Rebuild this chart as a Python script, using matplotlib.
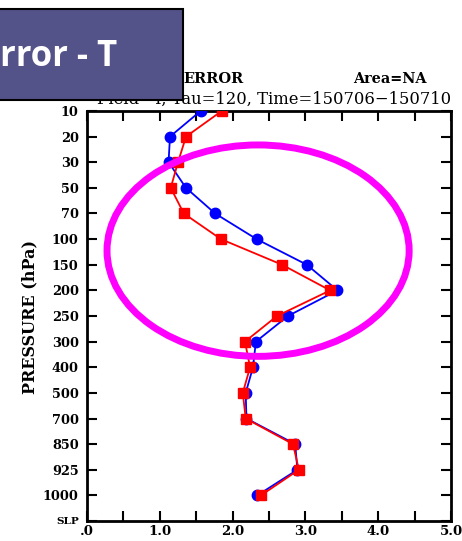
import numpy as np
import matplotlib
matplotlib.use("Agg")
import matplotlib.pyplot as plt
from matplotlib.patches import Ellipse, Rectangle

# Pressure levels (top to bottom) and error values
levels = ["10", "20", "30", "50", "70", "100", "150", "200", "250", "300",
          "400", "500", "700", "850", "925", "1000", "SLP"]
blue_err = [1.56, 1.14, 1.12, 1.36, 1.76, 2.33, 3.02, 3.44, 2.76, 2.32,
            2.28, 2.18, 2.19, 2.86, 2.89, 2.34]
red_err = [1.85, 1.36, 1.25, 1.15, 1.33, 1.84, 2.68, 3.34, 2.61, 2.17,
           2.24, 2.14, 2.18, 2.83, 2.91, 2.39]
xtick_labels = [".0", "1.0", "2.0", "3.0", "4.0", "5.0"]

serif = "DejaVu Serif"

fig = plt.figure(figsize=(4.62, 5.41), dpi=100)
ax = fig.add_axes([87 / 462, 20 / 541, 364 / 462, 410 / 541])

ypos = np.arange(len(blue_err))
ax.plot(blue_err, ypos, color="blue", lw=1.3, marker="o", ms=7.5, zorder=3)
ax.plot(red_err, ypos, color="red", lw=1.3, marker="s", ms=7.5, zorder=4)

# Highlight ellipse
ax.add_patch(Ellipse((2.35, 5.45), 4.15, 8.25, fill=False, ec="#ff00ff",
                     lw=5, zorder=5, clip_on=False))

ax.set_xlim(0, 5)
ax.set_ylim(len(levels) - 1, 0)
ax.set_xticks(np.arange(0, 5.01, 1.0))
ax.set_xticklabels(xtick_labels, fontfamily=serif, fontweight="bold", fontsize=9.5)
ax.set_xticks(np.arange(0.5, 5, 1.0), minor=True)
ax.set_yticks(np.arange(len(levels)))
ax.set_yticklabels(levels, fontfamily=serif, fontweight="bold", fontsize=9.3)
ax.tick_params(axis="both", which="both", direction="in", length=7, width=1.5,
               top=True, right=True)
ax.tick_params(axis="x", pad=3)
ax.tick_params(axis="y", pad=6)
for lbl in ax.get_yticklabels():
    if lbl.get_text() == "SLP":
        lbl.set_fontsize(7.5)
for s in ax.spines.values():
    s.set_linewidth(2)

fig.text(30 / 462, 1 - 317 / 541, "PRESSURE (hPa)", rotation=90, ha="center",
         va="center", fontfamily=serif, fontweight="bold", fontsize=11.5)

# Titles (partially hidden behind the overlay box)
fig.text(183 / 462, 1 - 79 / 541, "ERROR", ha="left", va="center",
         fontfamily=serif, fontweight="bold", fontsize=10.5)
fig.text(427 / 462, 1 - 79 / 541, "Area=NA", ha="right", va="center",
         fontfamily=serif, fontweight="bold", fontsize=10.4)
fig.text(451 / 462, 1 - 99 / 541, "Field=T, Tau=120, Time=150706\u2212150710",
         ha="right", va="center", fontfamily=serif, fontsize=11.8)

# Overlay slide box
fig.patches.append(Rectangle((-0.01, 1 - 100 / 541), 183 / 462 + 0.01, 91 / 541,
                             transform=fig.transFigure, fc="#535389", ec="black",
                             lw=1.5, zorder=10))
fig.text(0 / 462, 1 - 57 / 541, "rror - T", ha="left", va="center", color="white",
         fontfamily="Open Sans", fontweight="bold", fontsize=25, zorder=11)

fig.savefig("out.png", dpi=100)
